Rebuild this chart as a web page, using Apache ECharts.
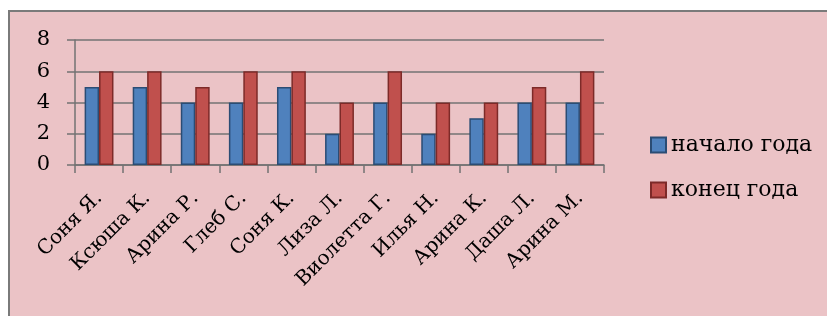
<!DOCTYPE html>
<html>
<head>
<meta charset="utf-8">
<script src="https://cdn.jsdelivr.net/npm/echarts@6/dist/echarts.min.js"></script>
<style>
  html, body { margin: 0; padding: 0; background: #fff; }
  .wrap { position: relative; width: 827px; height: 316px; overflow: hidden; }
  .panel {
    position: absolute; left: 8px; top: 10px; right: -4px; bottom: -4px;
    background: #ebc3c6;
    border-top: 2px solid #7a7a7a;
    border-left: 2px solid #7a7a7a;
  }
  #chart { position: absolute; left: 0; top: 0; width: 827px; height: 316px; }
</style>
</head>
<body>
<div class="wrap">
  <div class="panel"></div>
  <div id="chart"></div>
</div>
<script>
// ученики
const names = ['Соня Я.', 'Ксюша К.', 'Арина Р.', 'Глеб С.', 'Соня К.', 'Лиза Л.',
  'Виолетта Г.', 'Илья Н.', 'Арина К.', 'Даша Л.', 'Арина М.']
const startYear = [5, 5, 4, 4, 5, 2, 4, 2, 3, 4, 4]
const endYear = [6, 6, 5, 6, 6, 4, 6, 4, 4, 5, 6]
const seriesNames = ['начало года', 'конец года']

const font = 'DejaVu Serif'
const gray = '#737373'

const chart = echarts.init(document.getElementById('chart'))
chart.setOption({
  backgroundColor: 'transparent',
  animation: false,
  grid: { left: 75, right: 223, top: 40, bottom: 151, containLabel: false },
  legend: {
    orient: 'vertical',
    left: 645,
    top: 129,
    itemWidth: 15,
    itemHeight: 15,
    itemGap: 23,
    icon: 'rect',
    textStyle: { fontFamily: font, fontSize: 22, color: '#000' },
    data: seriesNames
  },
  xAxis: {
    type: 'category',
    data: names,
    axisLine: { lineStyle: { color: gray, width: 1.5 } },
    axisTick: { show: true, alignWithLabel: false, length: 8, lineStyle: { color: gray, width: 1.5 } },
    axisLabel: { rotate: 45, margin: 30, interval: 0, fontFamily: font, fontSize: 20, color: '#000' }
  },
  yAxis: {
    type: 'value',
    min: 0,
    max: 8,
    interval: 2,
    axisLine: { show: true, lineStyle: { color: gray, width: 1.5 } },
    axisTick: { show: true, length: 8, lineStyle: { color: gray, width: 1.5 } },
    splitLine: { lineStyle: { color: gray, width: 1.5 } },
    axisLabel: { margin: 25, fontFamily: font, fontSize: 21, color: '#000' }
  },
  series: [
    {
      name: seriesNames[0],
      type: 'bar',
      data: startYear,
      barGap: '0%',
      barCategoryGap: '40%',
      itemStyle: { color: '#4f81bd', borderColor: '#2b4c74', borderWidth: 1.5 }
    },
    {
      name: seriesNames[1],
      type: 'bar',
      data: endYear,
      barGap: '0%',
      barCategoryGap: '40%',
      itemStyle: { color: '#c0504d', borderColor: '#7d2a28', borderWidth: 1.5 }
    }
  ]
})
</script>
</body>
</html>
